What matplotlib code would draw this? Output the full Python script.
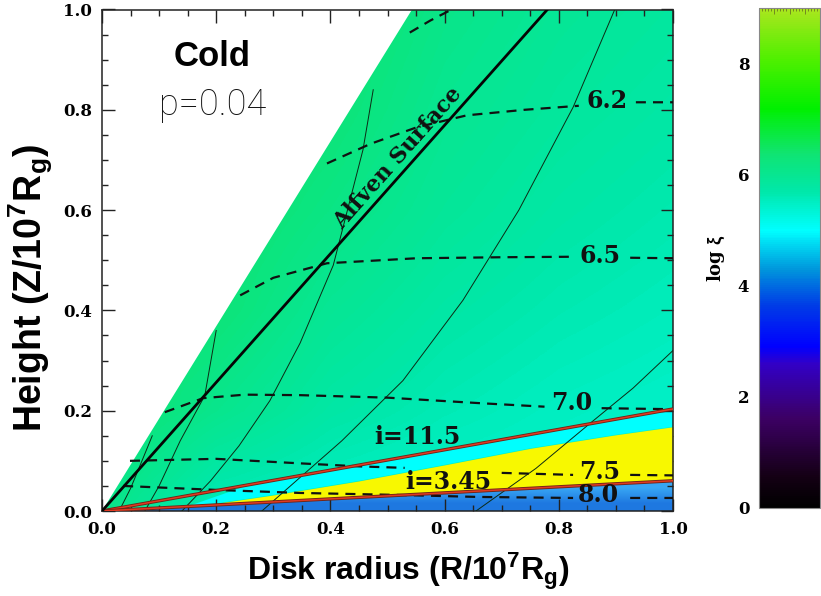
import numpy as np
import matplotlib
matplotlib.use("Agg")
import matplotlib.pyplot as plt
from matplotlib.colors import LinearSegmentedColormap, Normalize
from matplotlib.patches import Polygon
from matplotlib.ticker import MultipleLocator, FormatStrFormatter
from matplotlib.cm import ScalarMappable

plt.rcParams["mathtext.fontset"] = "custom"
plt.rcParams["mathtext.rm"] = "Liberation Sans:bold"
plt.rcParams["mathtext.it"] = "Liberation Sans:bold"
plt.rcParams["mathtext.bf"] = "Liberation Sans:bold"

# ---- colour scale of log xi ----
cbar_levels = [0.0, 0.55, 1.6, 2.6, 2.9, 3.65, 4.3, 5.0, 5.7, 6.4, 7.2, 8.1, 9.0]
cbar_colors = ["#000000", "#140014", "#3c0064", "#3200c8", "#0000ff", "#003ce6",
               "#0096dc", "#00ffff", "#00e8aa", "#10e470", "#00f000", "#50f000", "#aae61e"]
cbar_ticks = [0, 2, 4, 6, 8]

# ---- background shading of the wind on a coarse R-Z grid ----
bg_R = [0.0, 0.2, 0.4, 0.6, 0.8, 1.0]
bg_Z = [0.0, 0.2, 0.4, 0.6, 0.8, 1.0]
bg_val = [
    [6.1, 5.55, 5.45, 5.40, 5.38, 5.36],
    [6.4, 6.05, 5.75, 5.60, 5.50, 5.44],
    [6.4, 6.30, 5.95, 5.75, 5.63, 5.55],
    [6.4, 6.40, 6.15, 5.90, 5.75, 5.65],
    [6.4, 6.40, 6.30, 6.00, 5.85, 5.75],
    [6.4, 6.40, 6.40, 6.10, 5.93, 5.83],
]

# ---- geometry ----
jet_edge_R = [0.0, 0.543]          # outer edge of the wind
jet_edge_Z = [0.0, 1.0]
alfven_R = [0.0, 0.78]
alfven_Z = [0.0, 1.0]
incl_deg = [11.5, 3.45]            # lines of sight
incl_labels = ["i=11.5", "i=3.45"]
incl_label_R = [0.552, 0.607]
incl_label_Z = [0.147, 0.058]

# yellow (optically thick) layer, upper boundary
yel_R = [0.17, 0.30, 0.45, 0.60, 0.75, 0.90, 1.0]
yel_Z = [0.010, 0.032, 0.060, 0.092, 0.125, 0.152, 0.168]
cyan_left_R = [0.15, 0.26]

# disk atmosphere colours (bottom, top)
disk_colors = ["#1e78e0", "#38a6f4"]

# ---- contours of log xi (dashed) ----
c60_R = [0.539, 0.575, 0.609]
c60_Z = [0.954, 0.978, 0.998]
c62_R = [0.394, 0.47, 0.551, 0.639, 0.74, 0.835, np.nan, 0.935, 1.0]
c62_Z = [0.693, 0.732, 0.765, 0.789, 0.800, 0.808, np.nan, 0.815, 0.815]
c65_R = [0.242, 0.30, 0.394, 0.551, 0.70, 0.825, np.nan, 0.925, 1.0]
c65_Z = [0.430, 0.465, 0.494, 0.504, 0.506, 0.507, np.nan, 0.505, 0.504]
c70_R = [0.11, 0.177, 0.25, 0.347, 0.50, 0.662, 0.775, np.nan, 0.875, 1.0]
c70_Z = [0.197, 0.225, 0.232, 0.231, 0.226, 0.215, 0.208, np.nan, 0.205, 0.203]
c75_R = [0.049, 0.20, 0.347, 0.45, 0.53, np.nan, 0.70, 0.825, np.nan, 0.925, 1.0]
c75_Z = [0.100, 0.104, 0.095, 0.089, 0.086, np.nan, 0.076, 0.072, np.nan, 0.072, 0.071]
c80_R = [0.037, 0.20, 0.347, 0.52, 0.66, 0.825, np.nan, 0.925, 1.0]
c80_Z = [0.050, 0.042, 0.036, 0.032, 0.028, 0.026, np.nan, 0.026, 0.026]
contour_labels = ["6.2", "6.5", "7.0", "7.5", "8.0"]
contour_label_R = [0.885, 0.873, 0.822, 0.872, 0.869]
contour_label_Z = [0.818, 0.508, 0.215, 0.078, 0.032]

# ---- magnetic field lines (thin solid) ----
fa_R = [0.03, 0.05, 0.07, 0.088]
fa_Z = [0.0, 0.045, 0.10, 0.15]
fb_R = [0.075, 0.10, 0.137, 0.18, 0.20]
fb_Z = [0.0, 0.05, 0.14, 0.23, 0.36]
fc_R = [0.14, 0.19, 0.24, 0.294, 0.347, 0.405, 0.457, 0.475]
fc_Z = [0.0, 0.06, 0.13, 0.22, 0.335, 0.49, 0.72, 0.84]
fd_R = [0.28, 0.31, 0.42, 0.527, 0.632, 0.73, 0.825, 0.898]
fd_Z = [0.0, 0.03, 0.14, 0.26, 0.42, 0.60, 0.805, 1.0]
fe_R = [0.655, 0.76, 0.855, 0.93, 1.0]
fe_Z = [0.0, 0.085, 0.175, 0.245, 0.32]

# ======================================================================
W, H = 821, 596
fig = plt.figure(figsize=(W / 100, H / 100), dpi=100)
ax = fig.add_axes([102 / W, 1 - 511 / H, 571 / W, 501.5 / H])
cax = fig.add_axes([759 / W, 1 - 508 / H, 61 / W, 500 / H])

cmap = LinearSegmentedColormap.from_list(
    "logxi", [(v / 9.0, c) for v, c in zip(cbar_levels, cbar_colors)])
norm = Normalize(0, 9)

ax.set_xlim(0, 1)
ax.set_ylim(0, 1)

# wind region
wedge = Polygon([(jet_edge_R[0], jet_edge_Z[0]), (jet_edge_R[1], jet_edge_Z[1]),
                 (1, 1), (1, 0)], closed=True, transform=ax.transData)
dR = bg_R[1] - bg_R[0]
dZ = bg_Z[1] - bg_Z[0]
im = ax.imshow(np.array(bg_val), cmap=cmap, norm=norm, origin="lower",
               extent=[bg_R[0] - dR / 2, bg_R[-1] + dR / 2, bg_Z[0] - dZ / 2, bg_Z[-1] + dZ / 2],
               interpolation="bilinear", aspect="auto", zorder=0)
im.set_clip_path(wedge)

t_hi = np.tan(np.radians(incl_deg[0]))
t_lo = np.tan(np.radians(incl_deg[1]))

# disk atmosphere below the low line of sight
disk_cmap = LinearSegmentedColormap.from_list("disk", disk_colors)
disk_im = ax.imshow(np.array([[0.0], [1.0]]), cmap=disk_cmap, origin="lower",
                    extent=[0, 1, 0, t_lo], interpolation="bilinear",
                    aspect="auto", zorder=1)
disk_im.set_clip_path(Polygon([(0, 0), (1, t_lo), (1, 0)], closed=True,
                              transform=ax.transData))

# cyan band between the two lines of sight
Rg = np.linspace(cyan_left_R[0], 1.0, 200)
lower = np.maximum(Rg * t_lo, np.interp(Rg, yel_R, yel_Z, left=-1))
Ru = np.linspace(1.0, cyan_left_R[1], 100)
cyan_poly = list(zip(Rg, lower)) + list(zip(Ru, Ru * t_hi))
ax.add_patch(Polygon(cyan_poly, closed=True, facecolor=cmap(norm(5.0)),
                     edgecolor="none", zorder=1))

# yellow layer
Ry = np.linspace(yel_R[0], yel_R[-1], 200)
ax.fill_between(Ry, Ry * t_lo, np.interp(Ry, yel_R, yel_Z), color="#f8f800",
                lw=0, zorder=2)

# field lines
for r, z in [(fa_R, fa_Z), (fb_R, fb_Z), (fc_R, fc_Z), (fd_R, fd_Z), (fe_R, fe_Z)]:
    ax.plot(r, z, color="#0c2a14", lw=0.7, zorder=3)

# dashed contours of log xi
for r, z in [(c60_R, c60_Z), (c62_R, c62_Z), (c65_R, c65_Z),
             (c70_R, c70_Z), (c75_R, c75_Z), (c80_R, c80_Z)]:
    ax.plot(r, z, color="#111111", lw=1.6, ls=(0, (4.5, 3.2)), zorder=4)
for lab, r, z in zip(contour_labels, contour_label_R, contour_label_Z):
    ax.text(r, z, lab, ha="center", va="center", fontsize=17,
            family="DejaVu Serif", fontweight="bold", color="#111111", zorder=6)

# lines of sight
Rl = np.array([0.0, 1.0])
for t in (t_hi, t_lo):
    ax.plot(Rl, Rl * t, color="#6e2416", lw=2.4, zorder=5, solid_capstyle="butt")
    ax.plot(Rl, Rl * t, color="#e03a22", lw=1.1, zorder=5, solid_capstyle="butt")
for lab, r, z in zip(incl_labels, incl_label_R, incl_label_Z):
    ax.text(r, z, lab, ha="center", va="center", fontsize=17,
            family="DejaVu Serif", fontweight="bold", color="#111111", zorder=6)

# Alfven surface
ax.plot(alfven_R, alfven_Z, color="#050505", lw=2.0, zorder=5)
ang = np.degrees(np.arctan2(
    (alfven_Z[1] - alfven_Z[0]) * 501.5, (alfven_R[1] - alfven_R[0]) * 571))
ax.text(0.518, 0.704, "Alfven Surface", rotation=ang, rotation_mode="anchor",
        ha="center", va="center", fontsize=16, family="DejaVu Serif",
        fontweight="bold", color="#111111", zorder=6)

# annotations
ax.text(0.193, 0.907, "Cold", ha="center", va="center", fontsize=25,
        family="Liberation Sans", fontweight="bold", zorder=6)
ax.text(0.193, 0.810, "p=0.04", ha="center", va="center", fontsize=26,
        family="Roboto", fontweight="light", color="#111111", zorder=6)

# axes styling
ax.xaxis.set_major_locator(MultipleLocator(0.2))
ax.xaxis.set_minor_locator(MultipleLocator(0.05))
ax.yaxis.set_major_locator(MultipleLocator(0.2))
ax.yaxis.set_minor_locator(MultipleLocator(0.05))
ax.xaxis.set_major_formatter(FormatStrFormatter("%.1f"))
ax.yaxis.set_major_formatter(FormatStrFormatter("%.1f"))
ax.tick_params(which="both", direction="in", top=True, right=True, width=1.0,
               color="#222222")
ax.tick_params(which="major", length=9, pad=7)
ax.tick_params(which="minor", length=4.5)
for lab in ax.get_xticklabels() + ax.get_yticklabels():
    lab.set_family("DejaVu Serif")
    lab.set_fontweight("bold")
    lab.set_fontsize(12)
for s in ax.spines.values():
    s.set_linewidth(1.1)
    s.set_color("#222222")

fig.text(408 / W, 1 - 571 / H, r"Disk radius (R/10$^{7}$R$_{\mathrm{g}}$)",
         ha="center", va="center", fontsize=23, family="Liberation Sans",
         fontweight="bold")
fig.text(31 / W, 1 - 288 / H, r"Height (Z/10$^{7}$R$_{\mathrm{g}}$)",
         ha="center", va="center", rotation=90, fontsize=27,
         family="Liberation Sans", fontweight="bold")

# colour bar
cb = fig.colorbar(ScalarMappable(norm=norm, cmap=cmap), cax=cax)
cb.set_ticks(cbar_ticks)
cb.outline.set_linewidth(0.8)
cb.outline.set_edgecolor("#888888")
cax.yaxis.set_ticks_position("left")
cax.yaxis.set_label_position("left")
cax.tick_params(axis="y", length=0, pad=7)
for lab in cax.get_yticklabels():
    lab.set_family("DejaVu Serif")
    lab.set_fontweight("bold")
    lab.set_fontsize(12)
cax.set_ylabel(r"log $\xi$", family="DejaVu Serif", fontsize=13,
               fontweight="bold", labelpad=8)
cax.xaxis.set_ticks_position("top")
cax.set_xticks(np.linspace(0, 1, 5))
cax.set_xticks(np.linspace(0, 1, 21), minor=True)
cax.tick_params(axis="x", which="both", direction="in", labeltop=False,
                labelbottom=False, color="#6a7a20", width=0.6)
cax.tick_params(axis="x", which="major", length=4)
cax.tick_params(axis="x", which="minor", length=2)

fig.savefig("out.png", dpi=100)
